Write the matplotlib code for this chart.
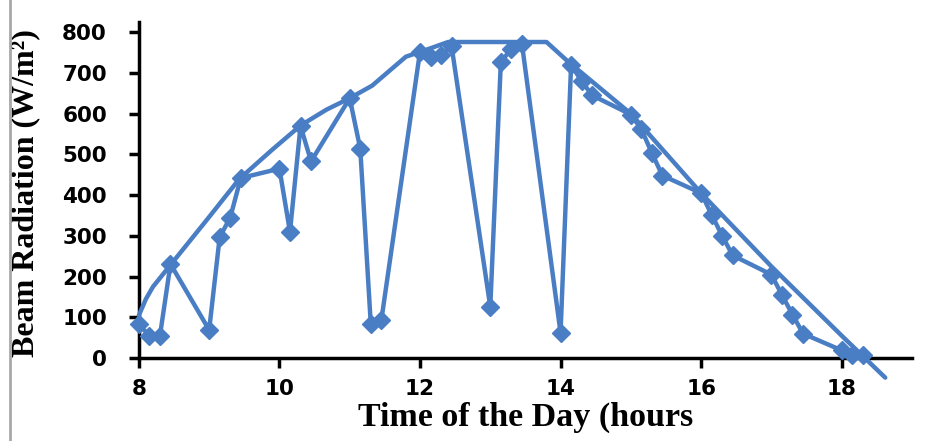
import numpy as np
import matplotlib
matplotlib.use('Agg')
from matplotlib import pyplot as plt
from matplotlib.lines import Line2D

# measured beam radiation, times in hh.mm style (8.15 = 8:15)
times = [8.00, 8.15, 8.30, 8.45, 9.00, 9.15, 9.30, 9.45, 10.00, 10.15, 10.30, 10.45,
         11.00, 11.15, 11.30, 11.45, 12.00, 12.15, 12.30, 12.45, 13.00, 13.15, 13.30, 13.45,
         14.00, 14.15, 14.30, 14.45, 15.00, 15.15, 15.30, 15.45, 16.00, 16.15, 16.30, 16.45,
         17.00, 17.15, 17.30, 17.45, 18.00, 18.15, 18.30]
beam = [83, 55, 55, 231, 69, 297, 345, 442, 465, 310, 570, 483,
        638, 514, 83, 93, 752, 740, 745, 765, 126, 726, 760, 772,
        62, 720, 680, 645, 598, 562, 503, 448, 405, 352, 300, 252,
        205, 155, 107, 60, 19, 7, 7]

# clear sky envelope
env_t = [8.00, 8.10, 8.20, 8.47, 8.97, 9.43, 9.90, 10.30, 10.67, 11.00, 11.32, 11.80, 12.09,
         12.40, 13.00, 13.80, 14.10, 15.00, 16.00, 17.00, 18.00, 18.62]
env_v = [105, 145, 175, 233, 340, 440, 512, 571, 610, 638, 669, 740, 757,
         776, 776, 776, 729, 600, 405, 225, 55, -48]

xticks = [8, 10, 12, 14, 16, 18]
yticks = [0, 100, 200, 300, 400, 500, 600, 700, 800]

blue = '#4a7ec4'

fig = plt.figure(figsize=(9.32, 4.41), dpi=100)
ax = fig.add_axes([0.149, 0.188, 0.8295, 0.762])

ax.plot(env_t, env_v, color=blue, lw=3.2, solid_capstyle='round', clip_on=False, zorder=3)
ax.plot(times, beam, color=blue, lw=3.2, marker='D', markersize=9, clip_on=False, zorder=4)

ax.set_xlim(8, 19)
ax.set_ylim(0, 825)
ax.set_xticks(xticks)
ax.set_yticks(yticks)

for s in ['top', 'right']:
    ax.spines[s].set_visible(False)
for s in ['left', 'bottom']:
    ax.spines[s].set_linewidth(2.5)
    ax.spines[s].set_color('black')
ax.tick_params(direction='out', length=7, width=2.5)
ax.tick_params(axis='y', pad=16)
ax.tick_params(axis='x', pad=8)

for lab in ax.get_xticklabels() + ax.get_yticklabels():
    lab.set_fontfamily('DejaVu Sans')
    lab.set_fontweight('bold')
    lab.set_fontsize(15.5)

ax.set_xlabel('Time of the Day (hours', fontfamily='Liberation Serif', fontweight='bold',
              fontsize=24.5)
ax.set_ylabel('Beam Radiation (W/m²)', fontfamily='Liberation Serif', fontweight='bold',
              fontsize=23)
ax.xaxis.set_label_coords(0.5, -0.13)
ax.yaxis.set_label_coords(-0.127, 0.49)

# grey border line at the left edge of the picture
fig.add_artist(Line2D([0.011, 0.011], [0, 1], transform=fig.transFigure, color='#a8a8a8', lw=2))

fig.savefig('out.png', dpi=100)
